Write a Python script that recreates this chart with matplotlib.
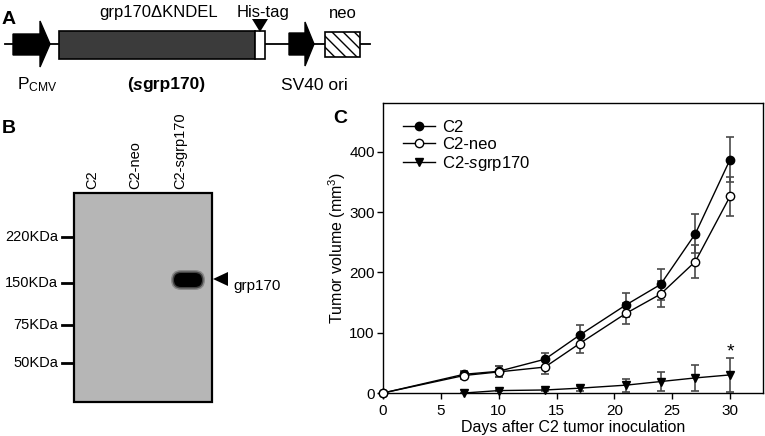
import matplotlib

matplotlib.use("Agg")

import matplotlib.pyplot as plt
from matplotlib.patches import FancyBboxPatch, Polygon, Rectangle

plt.rcParams["font.family"] = ["Liberation Sans", "DejaVu Sans"]
plt.rcParams["mathtext.fontset"] = "custom"
plt.rcParams["mathtext.rm"] = "Liberation Sans"
plt.rcParams["mathtext.it"] = "Liberation Sans:italic"
plt.rcParams["mathtext.bf"] = "Liberation Sans:bold"
plt.rcParams["hatch.linewidth"] = 1.0

# panel C: tumor growth
DAYS = [0, 7, 10, 14, 17, 21, 24, 27, 30]
C2_MEAN = [0, 31, 36, 56, 96, 146, 180, 264, 387]
C2_ERR = [0, 5, 9, 11, 16, 20, 26, 32, 37]
NEO_MEAN = [0, 29, 35, 43, 82, 132, 164, 218, 326]
NEO_ERR = [0, 6, 9, 11, 15, 17, 22, 28, 32]
SGRP_DAYS = [7, 10, 14, 17, 21, 24, 27, 30]
SGRP_MEAN = [0, 4, 5, 8, 13, 19, 25, 30]
SGRP_ERR = [0, 1, 2, 4, 11, 15, 21, 28]
X_TICKS = [0, 5, 10, 15, 20, 25, 30]
Y_TICKS = [0, 100, 200, 300, 400]

# panel B: western blot
LANES = ["C2", "C2-neo", "C2-sgrp170"]
MARKERS = ["220KDa", "150KDa", "75KDa", "50KDa"]

W, H = 765, 436
fig = plt.figure(figsize=(W / 100, H / 100), dpi=100)
renderer = fig.canvas.get_renderer()

# overlay in pixel coordinates for the schematic and blot
ov = fig.add_axes([0, 0, 1, 1])
ov.set_xlim(0, W)
ov.set_ylim(H, 0)
ov.axis("off")


def mixed_text(x, y, pieces, **kw):
    # draw consecutive text runs with their own style, centred on x
    items = [ov.text(0, y, s, va="center", ha="left", **kw, **style) for s, style in pieces]
    widths = [t.get_window_extent(renderer).width for t in items]
    pos = x - sum(widths) / 2
    for t, w in zip(items, widths):
        t.set_x(pos)
        pos += w


# ---- panel A: construct map ----
ov.text(2, 19, "A", fontsize=14, fontweight="bold", va="center", ha="left")
ov.plot([5, 370], [44, 44], color="black", lw=1.3, zorder=1)


def promoter(x0, x1, xt, y0, y1, h0, h1):
    pts = [(x0, y0), (x1, y0), (x1, h0), (xt, 44), (x1, h1), (x1, y1), (x0, y1)]
    ov.add_patch(Polygon(pts, closed=True, facecolor="black", edgecolor="black", zorder=3))


promoter(13, 40, 50, 34, 55, 21, 67)
promoter(289, 305, 314, 33, 55, 22, 66)
ov.add_patch(Rectangle((59, 31), 196, 28, facecolor="#3b3b3b", edgecolor="black", lw=1.2, zorder=3))
ov.add_patch(Rectangle((255, 31), 10, 28, facecolor="white", edgecolor="black", lw=1.2, zorder=3))
ov.add_patch(Polygon([(252, 19), (268, 19), (260, 32)], closed=True, facecolor="black", zorder=3))
ov.add_patch(Rectangle((325, 32), 35, 25, facecolor="white", edgecolor="black", lw=1.2,
                       hatch="\\\\\\", zorder=3))

ov.text(159, 13, "grp170ΔKNDEL", fontsize=12, ha="center", va="center")
ov.text(263, 13, "His-tag", fontsize=12, ha="center", va="center")
ov.text(343, 13, "neo", fontsize=12, ha="center", va="center")
ov.text(17, 85, r"P$_{\mathrm{CMV}}$", fontsize=12.5, ha="left", va="center")
mixed_text(166, 85, [("(", {"fontweight": "bold"}),
                     ("s", {"fontweight": "bold", "fontstyle": "italic"}),
                     ("grp170)", {"fontweight": "bold"})], fontsize=12.5)
ov.text(314, 85, "SV40 ori", fontsize=12.5, ha="center", va="center")

# ---- panel B: western blot ----
ov.text(2, 128, "B", fontsize=14, fontweight="bold", va="center", ha="left")
ov.add_patch(Rectangle((74, 193), 138, 209, facecolor="#b6b6b6", edgecolor="black", lw=1.6, zorder=2))
for pad, alpha in [(3.0, 0.25), (1.5, 0.5)]:
    ov.add_patch(FancyBboxPatch((174 - pad, 273 - pad), 28 + 2 * pad, 14 + 2 * pad,
                                boxstyle="round,pad=0,rounding_size=%g" % (7 + pad),
                                facecolor="black", edgecolor="none", alpha=alpha, zorder=3))
ov.add_patch(FancyBboxPatch((174, 273), 28, 14, boxstyle="round,pad=0,rounding_size=7",
                            facecolor="black", edgecolor="none", zorder=4))

for label, x in zip(LANES, [92, 135, 180]):
    ov.text(x, 189, label, fontsize=10.5, rotation=90, ha="center", va="bottom")

for label, y in zip(MARKERS, [237, 283, 325, 363]):
    ov.plot([62, 73], [y, y], color="black", lw=2)
    ov.text(58, y, label, fontsize=10.5, ha="right", va="center")

ov.add_patch(Polygon([(213, 279), (228, 272), (228, 286)], closed=True, facecolor="black", zorder=3))
ov.text(233, 286, "grp170", fontsize=11, ha="left", va="center")

# ---- panel C: tumor volume ----
ov.text(333, 118, "C", fontsize=14, fontweight="bold", va="center", ha="left")

ax = fig.add_axes([383 / W, (H - 393) / H, 380 / W, 289.5 / H])
ax.set_xlim(0, 32.85)
ax.set_ylim(0, 480)

err_kw = dict(fmt="none", ecolor="#4a4a4a", elinewidth=1.2, capsize=3, capthick=1.2, clip_on=False)
ax.errorbar(DAYS, C2_MEAN, yerr=C2_ERR, zorder=2, **err_kw)
ax.errorbar(DAYS, NEO_MEAN, yerr=NEO_ERR, zorder=2, **err_kw)
ax.errorbar(SGRP_DAYS, SGRP_MEAN, yerr=SGRP_ERR, zorder=2, **err_kw)

ax.plot(DAYS, C2_MEAN, color="black", lw=1, marker="o", ms=6, mfc="black", mec="black",
        label="C2", zorder=4, clip_on=False)
ax.plot(DAYS, NEO_MEAN, color="black", lw=1, marker="o", ms=6, mfc="white", mec="black",
        label="C2-neo", zorder=4, clip_on=False)
ax.plot(SGRP_DAYS, SGRP_MEAN, color="black", lw=1, marker="v", ms=6, mfc="black", mec="black",
        label=r"C2-$\mathit{s}$grp170", zorder=3, clip_on=False)

ax.text(30, 68, "*", fontsize=14, ha="center", va="center")

ax.set_xticks(X_TICKS)
ax.set_yticks(Y_TICKS)
ax.tick_params(direction="out", length=4, width=1, labelsize=11, pad=2)
ax.tick_params(axis="x", pad=4)
for s in ax.spines.values():
    s.set_linewidth(1)
ax.set_xlabel("Days after C2 tumor inoculation", fontsize=11.5, labelpad=1)
ax.set_ylabel(r"Tumor volume (mm$^3$)", fontsize=11.5, labelpad=1)

ax.legend(loc="upper left", bbox_to_anchor=(0.035, 0.965), frameon=False, fontsize=12,
          handlelength=1.9, handletextpad=0.45, labelspacing=0.1, borderaxespad=0)

fig.savefig("out.png", dpi=100)
